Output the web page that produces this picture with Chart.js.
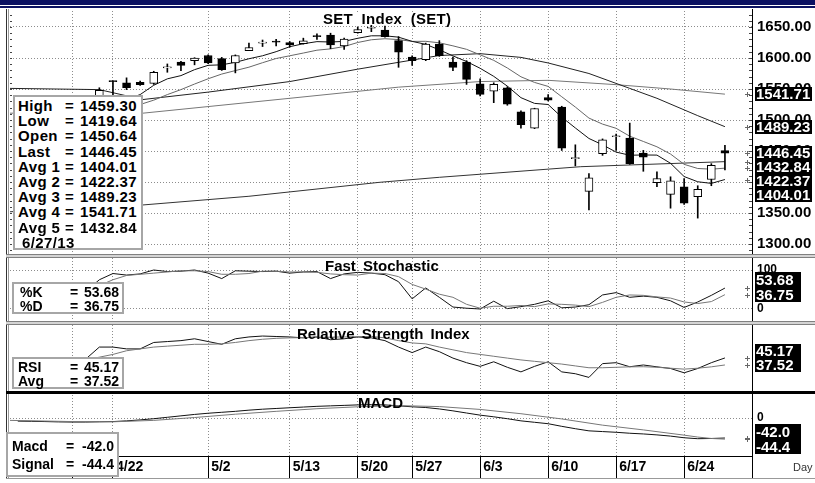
<!DOCTYPE html>
<html>
<head>
<meta charset="utf-8">
<title>SET Index</title>
<script src="https://cdn.jsdelivr.net/npm/chart.js@4.4.1/dist/chart.umd.min.js"></script>
<style>
  body { margin: 0; background: #fff; }
  #wrap { position: relative; width: 815px; height: 483px; overflow: hidden; font-family: "Liberation Sans", Arial, sans-serif; }
  .abs { position: absolute; }
  canvas { position: absolute; left: 0; z-index: 1; }
  .ln { position: absolute; z-index: 3; }
  .box { position: absolute; background: #fff; border: 2px solid #a6a6a6; font-weight: bold; color: #000; z-index: 5; box-sizing: border-box; }
  .row { position: relative; white-space: nowrap; }
  .row span { position: absolute; top: 0; }
  .title { position: absolute; z-index: 4; font-weight: bold; font-size: 15px; line-height: 13px; padding: 0 2px; word-spacing: 3px; white-space: nowrap; }
</style>
</head>
<body>
<div id="wrap">
  <div class="abs" style="left:0;top:0;width:815px;height:5px;background:#0b1162"></div>
  <div class="abs" style="left:0;top:6px;width:815px;height:2px;background:#0b1162"></div>

  <canvas id="cMain" width="815" height="243" style="top:11px"></canvas>
  <canvas id="cStoch" width="815" height="63" style="top:258px"></canvas>
  <canvas id="cRsi" width="815" height="65" style="top:325px"></canvas>
  <canvas id="cMacd" width="815" height="83" style="top:395px"></canvas>

  <!-- frame -->
  <div class="ln" style="left:6px;top:9px;width:1px;height:470px;background:#333"></div>
  <div class="ln" style="left:8px;top:9px;width:1px;height:470px;background:#999"></div>
  <div class="ln" style="left:752px;top:9px;width:1px;height:470px;background:#000"></div>
  <div class="ln" style="left:6px;top:254px;width:809px;height:1px;background:#808080"></div>
  <div class="ln" style="left:6px;top:255px;width:809px;height:2px;background:#d4d4d4"></div>
  <div class="ln" style="left:6px;top:257px;width:809px;height:1px;background:#808080"></div>
  <div class="ln" style="left:6px;top:321px;width:809px;height:1px;background:#808080"></div>
  <div class="ln" style="left:6px;top:322px;width:809px;height:2px;background:#d4d4d4"></div>
  <div class="ln" style="left:6px;top:324px;width:809px;height:1px;background:#808080"></div>
  <div class="ln" style="left:6px;top:391px;width:809px;height:3px;background:#000"></div>
  <div class="ln" style="left:6px;top:456px;width:747px;height:1px;background:#000"></div>
  <div class="ln" style="left:6px;top:478px;width:809px;height:1px;background:#999"></div>

  <div class="title" style="left:321px;top:12px;background:#fff;word-spacing:4px;letter-spacing:0.3px">SET Index (SET)</div>
  <div class="title" style="left:323px;top:259px">Fast Stochastic</div>
  <div class="title" style="left:295px;top:327px">Relative Strength Index</div>
  <div class="title" style="left:356px;top:396px">MACD</div>

  <div class="abs" style="left:793px;top:461px;font-size:11px;color:#333;z-index:4">Day</div>

  <div class="box" id="bMain" style="left:13px;top:95px;width:130px;height:155px;font-size:15px;padding-top:1px;letter-spacing:0.4px"></div>
  <div class="box" id="bStoch" style="left:12px;top:282px;width:112px;height:32px;font-size:14px;padding-top:1px"></div>
  <div class="box" id="bRsi" style="left:12px;top:357px;width:112px;height:32px;font-size:14px;padding-top:1px"></div>
  <div class="box" id="bMacd" style="left:6px;top:432px;width:113px;height:45px;font-size:14px;padding-top:3px"></div>
</div>

<script>
// ---- x axis: trading day index, 0 = 4/22 ----
const xMin = -7.57;
const xMax = 46.99;
const dateTicks = [-3, 0, 7, 13, 18, 22, 27, 32, 37, 42];
const dateLabels = ['4/17', '4/22', '5/2', '5/13', '5/20', '5/27', '6/3', '6/10', '6/17', '6/24'];
const priceTicks = [1300, 1350, 1400, 1450, 1500, 1550, 1600, 1650];

// ---- candles, 4/19 .. 6/27 ----
const candleDays = [];
for (let d = -1; d <= 45; d++) candleDays.push(d);
const opens = [1520, 1562, 1560, 1560.6, 1559, 1584, 1593.6, 1595.7, 1604, 1599, 1592, 1612, 1624, 1625.5, 1625, 1623,
  1634.5, 1637, 1619.6, 1641, 1648, 1645, 1628, 1601.6, 1597.3, 1622.4, 1593.6, 1593.6, 1558.5, 1546.7, 1552, 1513,
  1486.7, 1536, 1521, 1437.6, 1385, 1445.6, 1473, 1471, 1446.7, 1399, 1380, 1392.4, 1376.4, 1404, 1450.64];
const highs = [1552, 1563, 1568, 1562.6, 1578.6, 1590.4, 1594.6, 1600.5, 1605, 1601, 1605, 1624, 1629, 1630, 1626.5, 1632,
  1638.8, 1640, 1632, 1649.5, 1653, 1651.6, 1634.5, 1603.7, 1624, 1628, 1601.6, 1595.7, 1566.5, 1560, 1553.7, 1514.7,
  1519, 1541, 1522.2, 1460, 1413.6, 1469.5, 1477.5, 1495, 1451, 1416.4, 1408.4, 1405.7, 1394, 1429.6, 1459.30];
const lows = [1512, 1540, 1549, 1555.8, 1557.4, 1577, 1579.7, 1589, 1591, 1580, 1576, 1612, 1618.5, 1619.6, 1617.5, 1622.4,
  1630, 1615, 1614, 1640, 1642.5, 1633.5, 1585, 1588, 1595.7, 1602.6, 1579.7, 1557.4, 1538.7, 1528, 1523.8, 1486.7,
  1486, 1530.7, 1450.9, 1426, 1355, 1443, 1451, 1428.5, 1417.3, 1392.4, 1357.8, 1364, 1341.8, 1394, 1419.64];
const closes = [1548, 1562, 1552, 1557, 1577, 1584.5, 1588.2, 1600, 1592, 1581, 1604, 1617, 1624.5, 1625.5, 1621, 1627.6,
  1634.5, 1621, 1630.4, 1646, 1648.5, 1634.5, 1609.6, 1595.7, 1622.4, 1603.7, 1585, 1565.4, 1541.4, 1557.4, 1525.4, 1492.4,
  1518.6, 1531.8, 1454.7, 1438, 1406.8, 1468, 1473.5, 1429.6, 1440, 1405.7, 1402, 1365.7, 1388, 1427, 1446.45];

// ---- moving averages ----
const maDays = [];
for (let d = -7; d <= 45; d++) maDays.push(d);
const ma5 = [1500, 1497, 1494, 1492, 1494, 1500, 1515, 1526, 1533, 1541, 1556, 1566.4, 1571.6, 1581.2, 1588.2, 1589, 1593,
  1598.8, 1603.6, 1610.2, 1618.2, 1623, 1626.4, 1625.8, 1626.8, 1631.8, 1635.8, 1635.8, 1633.6, 1626.8, 1622, 1613.2,
  1603.4, 1594.4, 1583.4, 1570.4, 1554.6, 1536, 1526.8, 1525, 1504.6, 1487.2, 1470.2, 1460, 1448.2, 1443.2, 1443.6,
  1443.4, 1430.2, 1408.8, 1400.4, 1397.8, 1404.01];
const ma10 = [1510, 1506, 1503, 1500, 1498, 1501, 1510, 1515, 1520, 1525, 1532, 1541, 1549, 1558, 1566.5, 1574.1, 1579.7,
  1585.2, 1592.4, 1599.2, 1603.6, 1608, 1612.6, 1614.7, 1618.5, 1625, 1629.4, 1631.1, 1629.7, 1626.8, 1626.9, 1624.5,
  1619.6, 1614, 1605.1, 1596.2, 1583.9, 1569.7, 1560.6, 1554.2, 1537.5, 1520.9, 1503.1, 1493.4, 1486.6, 1473.9, 1465.4,
  1456.8, 1445.1, 1428.5, 1421.8, 1420.7, 1422.37];
const ma25 = [[-7.57, 1551], [-1, 1549], [2.2, 1533], [7, 1545], [13, 1562], [18, 1582], [21, 1593], [24, 1604], [27, 1607],
  [30, 1601], [32, 1592], [35, 1575], [38, 1551], [40, 1535], [43, 1507], [45, 1489.23]];
const ma75 = [[-7.57, 1511], [2.2, 1511], [13, 1535], [21, 1553], [27, 1562], [32, 1564], [37, 1557], [41, 1550], [45, 1541.71]];
const ma200 = [[-7.57, 1352], [2.2, 1363], [10, 1377], [19.6, 1399.5], [24, 1407.6], [34.4, 1424.7], [45, 1432.84]];

// ---- indicators ----
const oscDays = [];
for (let d = -3; d <= 45; d++) oscDays.push(d);
const stochK = [30, 45, 75, 91, 87, 90, 100, 96, 97, 100, 92, 78, 98, 97, 96, 97, 92, 95, 96, 78, 90, 94, 92, 88, 70, 26,
  54, 30, 5, 2, 0, 20, 1, 6, 12, 21, 3, 5, 11, 36, 42, 30, 33, 30, 21, 4, 18, 35, 53.68];
const stochD = [35, 45, 60, 75, 86, 89, 92, 95, 98, 98, 96, 89, 89, 91, 97, 97, 95, 95, 94, 90, 88, 87, 92, 91, 83, 63,
  51, 38, 30, 12, 2, 7, 7, 9, 6, 13, 12, 10, 6, 17, 30, 36, 35, 31, 28, 18, 14, 19, 36.75];
const rsi = [40, 44, 57, 57, 55, 55, 62, 63, 64, 66, 63, 60, 66, 68, 69, 68.5, 68, 67, 68, 65, 66, 68, 67, 64, 57, 51,
  57, 52, 45, 40, 36, 41, 35, 30, 36, 41, 30, 28, 24, 39, 40, 35.6, 37.5, 35.5, 33.7, 29, 33.7, 40, 45.17];
const rsiAvg = [42, 43, 46, 49, 53, 55, 57, 58, 59, 60, 60, 60.5, 62, 64, 65.5, 66.5, 67, 67.3, 67.5, 67.8, 68, 68.3,
  68.6, 67, 64, 61.5, 60.5, 57, 54, 51, 49, 47, 45, 43, 41.5, 40, 38.5, 36.5, 34.5, 34.5, 35, 35.5, 35.6, 35, 34, 33,
  34, 35.5, 37.52];
const macd = [-6.5, -7, -7.5, -8.2, -8.5, -8.5, -8, -7.5, -6, -4, -1.5, 1.5, 4.5, 7.5, 10, 12, 14, 16.5, 18.5, 20, 21.5,
  23, 24.5, 25.5, 26.5, 27.5, 28, 27.5, 25.5, 23.5, 22, 19, 15, 10.5, 6, 2.5, -1.5, -6, -9, -12, -17.5, -22.5, -27,
  -28.5, -30, -32, -33.5, -35.5, -38, -41.5, -43.5, -43, -42];
const signal = [[-7.57, -5], [-3, -7.5], [0, -8], [3, -5], [6, 1], [9, 8], [12, 14], [15, 19.5], [18, 23.5], [21, 26],
  [24, 24], [27, 18], [30, 9], [33, -2], [36, -15], [39, -25], [42, -36], [43, -40], [44, -43], [45, -44.4]];

// ---- legend boxes ----
// row: [label, value, labelLeft, eqLeft]
function fillBox(id, rows, lh, rightPad) {
  const el = document.getElementById(id);
  el.innerHTML = rows.map(r =>
    `<div class="row" style="height:${lh}px;line-height:${lh}px">` +
    `<span style="left:${r[2]}px">${r[0]}</span>` +
    (r[1] ? `<span style="left:${r[3]}px">=</span><span style="right:${rightPad}px">${r[1]}</span>` : '') + '</div>').join('');
}
fillBox('bMain', [['High', '1459.30', 3, 50], ['Low', '1419.64', 3, 50], ['Open', '1450.64', 3, 50],
  ['Last', '1446.45', 3, 50], ['Avg 1', '1404.01', 3, 50], ['Avg 2', '1422.37', 3, 50], ['Avg 3', '1489.23', 3, 50],
  ['Avg 4', '1541.71', 3, 50], ['Avg 5', '1432.84', 3, 50], ['6/27/13', '', 7]], 15.2, 4);
fillBox('bStoch', [['%K', '53.68', 6, 56], ['%D', '36.75', 6, 56]], 14, 3);
fillBox('bRsi', [['RSI', '45.17', 4, 56], ['Avg', '37.52', 4, 56]], 14, 3);
fillBox('bMacd', [['Macd', '-42.0', 4, 58], ['Signal', '-44.4', 4, 58]], 18, 3);

// ---- plugins ----
const edgeTicks = {
  id: 'edgeTicks',
  afterDraw(chart, args, o) {
    if (!o.step) return;
    const {ctx, chartArea: a} = chart;
    const y = chart.scales.y;
    ctx.save();
    ctx.strokeStyle = '#444';
    ctx.lineWidth = 1;
    ctx.beginPath();
    for (let v = Math.ceil(y.min / o.step) * o.step; v <= y.max; v += o.step) {
      const py = Math.round(y.getPixelForValue(v)) + 0.5;
      ctx.moveTo(a.right - 3, py); ctx.lineTo(a.right, py);
      ctx.moveTo(a.left, py); ctx.lineTo(a.left + 2, py);
    }
    ctx.stroke();
    ctx.restore();
  }
};

// black value tags on the right axis, nudged apart when they overlap
const valueTags = {
  id: 'valueTags',
  afterDraw(chart, args, o) {
    if (!o.values) return;
    const {ctx, chartArea: a} = chart;
    const y = chart.scales.y;
    const h = o.h;
    const items = o.values.map(v => ({v, py: y.getPixelForValue(v)})).sort((p, q) => p.py - q.py);
    const ys = items.map(i => i.py);
    if (o.anchor === 'top') {
      for (let i = 1; i < ys.length; i++) ys[i] = Math.max(ys[i], ys[i - 1] + h);
    } else if (o.anchor === 'center') {
      if (ys.length === 2 && ys[1] - ys[0] < h) {
        const m = (ys[0] + ys[1]) / 2;
        ys[0] = m - h / 2; ys[1] = m + h / 2;
      }
    } else {
      for (let i = ys.length - 2; i >= 0; i--) ys[i] = Math.min(ys[i], ys[i + 1] - h);
    }
    ctx.save();
    items.forEach((it, i) => {
      const px = a.right - 4.5;
      const py = Math.round(it.py) + 0.5;
      ctx.strokeStyle = '#666';
      ctx.lineWidth = 1;
      ctx.beginPath();
      ctx.moveTo(px - 2.5, py); ctx.lineTo(px + 2.5, py);
      ctx.moveTo(px, py - 2.5); ctx.lineTo(px, py + 2.5);
      ctx.stroke();
      const top = Math.round(ys[i] - h / 2);
      ctx.fillStyle = '#000';
      ctx.fillRect(a.right + 3, top, o.w, h);
      ctx.fillStyle = '#fff';
      ctx.font = o.font;
      ctx.textBaseline = 'middle';
      ctx.textAlign = 'left';
      ctx.fillText(it.v.toFixed(o.digits), a.right + 4, top + h / 2 + 1);
    });
    ctx.restore();
  }
};

// ---- shared scale builders ----
const gridGrey = '#8c8c8c';
function xScale(withLabels) {
  return {
    type: 'linear', min: xMin, max: xMax, offset: false,
    afterBuildTicks: s => { s.ticks = dateTicks.map(v => ({value: v})); },
    grid: { color: gridGrey, offset: false, drawTicks: withLabels, tickLength: 22, tickColor: '#000', tickBorderDash: [] },
    border: { display: false, dash: [1, 2] },
    ticks: withLabels ? {
      display: true, align: 'start', labelOffset: 3, padding: -19, color: '#000', autoSkip: false, maxRotation: 0,
      font: { family: 'Liberation Sans', weight: 'bold', size: 14 },
      callback: (v, i) => dateLabels[i]
    } : { display: false },
    afterFit: s => { s.height = withLabels ? 22 : 0; s.paddingLeft = 0; s.paddingRight = 0; }
  };
}
function yScale(min, max, ticks, label, size) {
  return {
    position: 'right', min, max,
    afterBuildTicks: s => { s.ticks = ticks.map(v => ({value: v})); },
    grid: { color: gridGrey, drawTicks: false },
    border: { display: false, dash: [1, 2] },
    ticks: {
      display: !!label, padding: 5, color: '#000',
      font: { family: 'Liberation Sans', weight: 'bold', size },
      callback: label
    },
    afterFit: s => { s.width = 63; s.paddingTop = 0; s.paddingBottom = 0; }
  };
}
function lineSet(points, color, order) {
  return { type: 'line', data: points, borderColor: color, borderWidth: 1, pointRadius: 0, tension: 0, order: order || 2 };
}
function panel(id, datasets, y, x, pluginOpts) {
  return new Chart(document.getElementById(id), {
    type: 'bar',
    data: { datasets },
    options: {
      responsive: false, animation: false, devicePixelRatio: 1, events: [],
      layout: { padding: { left: 10, right: 0, top: 0, bottom: 0 } },
      scales: { x, y },
      plugins: Object.assign({ legend: { display: false }, tooltip: { enabled: false } }, pluginOpts)
    },
    plugins: [edgeTicks, valueTags]
  });
}
const daily = (days, vals) => days.map((d, i) => ({x: d, y: vals[i]}));
const pairs = arr => arr.map(p => ({x: p[0], y: p[1]}));
const tagFont = 'bold 15px "Liberation Sans", Arial';

// ---- main price panel ----
panel('cMain', [
  {
    data: candleDays.map((d, i) => ({x: d, y: [opens[i], closes[i]]})),
    backgroundColor: closes.map((c, i) => c > opens[i] ? '#fff' : '#000'),
    borderColor: '#000', borderWidth: 1, borderSkipped: false, barThickness: 8, minBarLength: 1, grouped: false, order: 0
  },
  {
    data: candleDays.map((d, i) => ({x: d, y: [lows[i], highs[i]]})),
    backgroundColor: '#000', borderWidth: 0, barThickness: 1, minBarLength: 1, grouped: false, order: 1
  },
  lineSet(daily(maDays, ma5), '#111'),
  lineSet(daily(maDays, ma10), '#666'),
  lineSet(pairs(ma25), '#222'),
  lineSet(pairs(ma75), '#777'),
  lineSet(pairs(ma200), '#333')
], yScale(1283.9, 1675.8, priceTicks, v => v.toFixed(2), 15), xScale(false), {
  edgeTicks: { step: 10 },
  valueTags: { values: [1541.71, 1489.23, 1446.45, 1432.84, 1422.37, 1404.01], digits: 2, h: 14, w: 57,
    anchor: 'top', font: tagFont }
});

// ---- fast stochastic ----
panel('cStoch', [
  lineSet(daily(oscDays, stochD), '#777'),
  lineSet(daily(oscDays, stochK), '#111')
], yScale(-30.8, 130.8, [0, 100], v => String(v), 12), xScale(false), {
  valueTags: { values: [53.68, 36.75], digits: 2, h: 15, w: 46, anchor: 'bottom', font: tagFont }
});

// ---- RSI ----
panel('cRsi', [
  lineSet(daily(oscDays, rsiAvg), '#777'),
  lineSet(daily(oscDays, rsi), '#111')
], yScale(10.3, 81, [50], null, 12), xScale(false), {
  valueTags: { values: [45.17, 37.52], digits: 2, h: 14, w: 46, anchor: 'bottom', font: tagFont }
});

// ---- MACD ----
panel('cMacd', [
  lineSet(pairs(signal), '#777'),
  lineSet(daily(maDays, macd), '#111')
], yScale(-79.8, 48.3, [0], v => String(v), 12), xScale(true), {
  valueTags: { values: [-42.0, -44.4], digits: 1, h: 15, w: 46, anchor: 'center', font: tagFont }
});
</script>
</body>
</html>
